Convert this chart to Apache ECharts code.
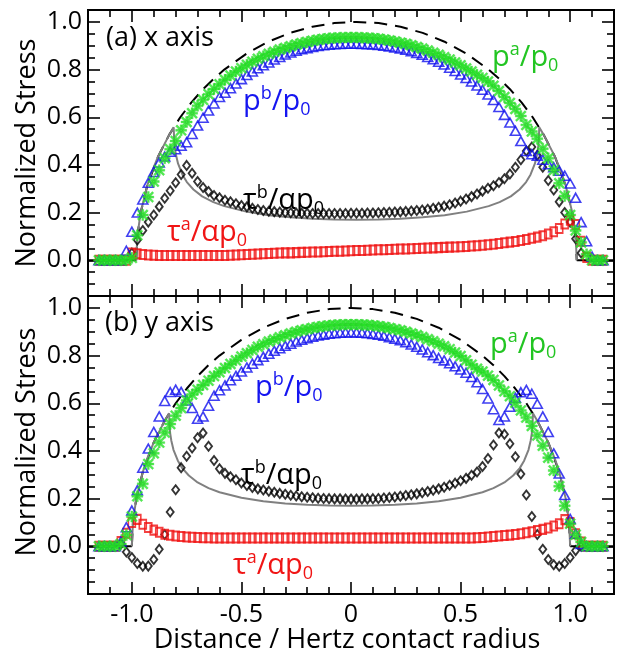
<!DOCTYPE html>
<html><head><meta charset="utf-8">
<script src="https://cdn.jsdelivr.net/npm/echarts@6.0.0/dist/echarts.min.js"></script>
<style>html,body{margin:0;padding:0;background:#fff}#c{width:620px;height:654px}</style>
</head><body><div id="c"></div>
<script>
// ---------- data ----------
const xGrid = [
 -1.15,-1.125,-1.1,-1.075,-1.05,-1.025,-1.0,-0.975,-0.95,-0.925,
 -0.9,-0.875,-0.85,-0.825,-0.8,-0.775,-0.75,-0.725,-0.7,-0.675,
 -0.65,-0.625,-0.6,-0.575,-0.55,-0.525,-0.5,-0.475,-0.45,-0.425,
 -0.4,-0.375,-0.35,-0.325,-0.3,-0.275,-0.25,-0.225,-0.2,-0.175,
 -0.15,-0.125,-0.1,-0.075,-0.05,-0.025,0,0.025,0.05,0.075,
 0.1,0.125,0.15,0.175,0.2,0.225,0.25,0.275,0.3,0.325,
 0.35,0.375,0.4,0.425,0.45,0.475,0.5,0.525,0.55,0.575,
 0.6,0.625,0.65,0.675,0.7,0.725,0.75,0.775,0.8,0.825,
 0.85,0.875,0.9,0.925,0.95,0.975,1.0,1.025,1.05,1.075,
 1.1,1.125,1.15];

// (a) x axis
const pA_a = [
 0,0,0,0,0,0,0.01,0.105,0.19,0.265,
 0.33,0.378,0.428,0.466,0.5,0.545,0.58,0.617,0.648,0.673,
 0.697,0.719,0.738,0.757,0.775,0.792,0.806,0.82,0.833,0.845,
 0.856,0.866,0.875,0.884,0.891,0.898,0.905,0.911,0.916,0.921,
 0.925,0.928,0.931,0.933,0.934,0.935,0.935,0.935,0.934,0.933,
 0.931,0.929,0.926,0.922,0.918,0.913,0.908,0.902,0.895,0.888,
 0.88,0.871,0.862,0.852,0.842,0.83,0.818,0.805,0.792,0.778,
 0.765,0.75,0.732,0.71,0.685,0.66,0.635,0.605,0.568,0.54,
 0.51,0.468,0.428,0.378,0.323,0.27,0.19,0.125,0.075,0.025,
 0,0,0];
const pB_a = [
 0,0,0,0,0,0.04,0.12,0.2,0.255,0.325,
 0.37,0.41,0.435,0.455,0.466,0.48,0.495,0.53,0.565,0.598,
 0.628,0.658,0.685,0.703,0.722,0.742,0.76,0.777,0.792,0.806,
 0.818,0.83,0.842,0.853,0.863,0.872,0.879,0.885,0.89,0.895,
 0.899,0.902,0.904,0.906,0.907,0.908,0.908,0.908,0.907,0.906,
 0.905,0.903,0.9,0.897,0.893,0.888,0.883,0.877,0.87,0.862,
 0.853,0.843,0.833,0.821,0.808,0.794,0.779,0.765,0.75,0.733,
 0.715,0.695,0.672,0.643,0.61,0.578,0.543,0.5,0.458,0.445,
 0.438,0.422,0.403,0.39,0.376,0.355,0.322,0.262,0.16,0.08,
 0.015,0,0];
const tB_a = [
 null,null,null,null,null,null,0.03,0.085,0.125,0.16,
 0.19,0.225,0.26,0.292,0.325,0.36,0.398,0.365,0.33,0.305,
 0.288,0.272,0.262,0.252,0.245,0.237,0.23,0.224,0.218,0.213,
 0.209,0.206,0.204,0.202,0.2,0.199,0.198,0.197,0.197,0.196,
 0.196,0.196,0.196,0.196,0.196,0.196,0.197,0.197,0.197,0.198,
 0.198,0.199,0.2,0.201,0.202,0.203,0.205,0.207,0.209,0.211,
 0.214,0.218,0.222,0.227,0.233,0.24,0.248,0.257,0.267,0.278,
 0.29,0.302,0.313,0.326,0.342,0.362,0.39,0.422,0.458,0.475,
 0.44,0.39,0.335,0.295,0.245,0.2,0.16,0.09,0.03,null,
 null,null,null];
const tA_a = [
 0,0,0,0,0,0,0.03,0.027,0.024,0.022,
 0.021,0.02,0.02,0.02,0.02,0.02,0.02,0.02,0.02,0.02,
 0.02,0.02,0.02,0.02,0.021,0.022,0.023,0.024,0.025,0.026,
 0.027,0.028,0.029,0.03,0.031,0.031,0.032,0.033,0.034,0.035,
 0.035,0.036,0.037,0.038,0.038,0.039,0.04,0.041,0.041,0.042,
 0.043,0.044,0.044,0.045,0.046,0.047,0.047,0.048,0.049,0.05,
 0.051,0.052,0.053,0.054,0.055,0.056,0.057,0.058,0.06,0.061,
 0.063,0.065,0.067,0.07,0.073,0.076,0.079,0.083,0.087,0.092,
 0.097,0.103,0.11,0.12,0.133,0.152,0.168,0.15,0.08,0.012,
 0,0,0];
const hertz_a = [[-0.98,0],[-0.975,0.1],[-0.96,0.199],[-0.93,0.312],[-0.88,0.436],[-0.829,0.527],
 [-0.779,0.6],[-0.729,0.661],[-0.679,0.714],[-0.628,0.76],[-0.578,0.8],[-0.478,0.866],[-0.377,0.917],
 [-0.277,0.954],[-0.176,0.98],[-0.076,0.995],[0.025,1],[0.126,0.995],[0.226,0.98],[0.327,0.954],
 [0.427,0.917],[0.528,0.866],[0.628,0.8],[0.678,0.76],[0.729,0.714],[0.779,0.661],[0.829,0.6],
 [0.879,0.527],[0.93,0.436],[0.98,0.312],[1.01,0.199],[1.025,0.1],[1.03,0]];
const tauTheory_a = [[-0.98,0],[-0.975,0.1],[-0.96,0.199],[-0.93,0.312],[-0.91,0.368],[-0.88,0.436],
 [-0.829,0.527],[-0.809,0.558],[-0.807,0.504],[-0.804,0.474],[-0.799,0.444],[-0.789,0.405],[-0.769,0.359],
 [-0.749,0.328],[-0.719,0.297],[-0.679,0.268],[-0.628,0.244],[-0.578,0.227],[-0.478,0.204],[-0.377,0.189],
 [-0.277,0.18],[-0.176,0.174],[-0.076,0.171],[0.025,0.17],[0.126,0.171],[0.226,0.174],[0.327,0.18],
 [0.427,0.189],[0.528,0.204],[0.628,0.227],[0.678,0.244],[0.729,0.268],[0.769,0.297],[0.799,0.328],
 [0.819,0.359],[0.839,0.405],[0.849,0.444],[0.854,0.474],[0.857,0.504],[0.859,0.558],[0.879,0.527],
 [0.93,0.436],[0.96,0.368],[0.98,0.312],[1.01,0.199],[1.025,0.1],[1.03,0]];
const zeroL_a = [[-1.2,0],[-0.98,0]];
const zeroR_a = [[1.03,0],[1.2,0]];

// (b) y axis
const pA_b = [
 0,0,0,0,0.01,0.047,0.125,0.21,0.262,0.345,
 0.39,0.435,0.477,0.513,0.548,0.58,0.612,0.637,0.657,0.677,
 0.695,0.714,0.73,0.748,0.765,0.78,0.796,0.81,0.824,0.837,
 0.848,0.859,0.868,0.877,0.885,0.893,0.9,0.906,0.911,0.916,
 0.92,0.923,0.926,0.928,0.929,0.93,0.93,0.93,0.929,0.928,
 0.926,0.923,0.92,0.916,0.911,0.906,0.9,0.893,0.886,0.878,
 0.869,0.86,0.85,0.839,0.827,0.813,0.798,0.78,0.762,0.745,
 0.733,0.716,0.698,0.675,0.65,0.63,0.602,0.57,0.54,0.505,
 0.465,0.422,0.372,0.318,0.252,0.17,0.095,0.049,0.018,0,
 0,0,0];
const pB_b = [
 0,0,0,0,0.02,0.08,0.15,0.235,0.33,0.41,
 0.48,0.545,0.61,0.647,0.657,0.648,0.612,0.58,0.535,0.545,
 0.59,0.632,0.655,0.675,0.697,0.715,0.733,0.75,0.766,0.781,
 0.795,0.808,0.82,0.831,0.841,0.85,0.859,0.866,0.873,0.879,
 0.884,0.888,0.892,0.894,0.896,0.897,0.897,0.897,0.896,0.894,
 0.891,0.887,0.883,0.877,0.871,0.864,0.856,0.847,0.837,0.826,
 0.814,0.802,0.79,0.78,0.768,0.755,0.742,0.728,0.71,0.688,
 0.66,0.62,0.575,0.53,0.545,0.585,0.623,0.646,0.656,0.64,
 0.598,0.545,0.48,0.39,0.305,0.215,0.115,0.053,0.01,0,
 0,0,0];
const tB_b = [
 null,null,null,null,0.01,-0.024,-0.047,-0.072,-0.084,-0.083,
 -0.055,-0.012,0.05,0.144,0.237,0.33,0.378,0.412,0.455,0.475,
 0.42,0.36,0.325,0.306,0.292,0.279,0.266,0.255,0.247,0.241,
 0.236,0.231,0.227,0.222,0.218,0.214,0.211,0.208,0.206,0.204,
 0.202,0.201,0.2,0.199,0.199,0.198,0.198,0.198,0.199,0.199,
 0.2,0.201,0.203,0.205,0.207,0.21,0.213,0.216,0.22,0.225,
 0.23,0.235,0.241,0.248,0.256,0.265,0.275,0.285,0.298,0.312,
 0.335,0.368,0.425,0.475,0.47,0.43,0.376,0.303,0.215,0.125,
 0.05,-0.012,-0.055,-0.077,-0.084,-0.072,-0.047,-0.018,0,null,
 null,null,null];
const tA_b = [
 0,0,0,0,0.02,0.055,0.1,0.113,0.093,0.079,
 0.068,0.059,0.051,0.046,0.043,0.041,0.039,0.038,0.037,0.036,
 0.036,0.035,0.035,0.035,0.035,0.035,0.035,0.035,0.035,0.035,
 0.035,0.035,0.035,0.035,0.035,0.035,0.035,0.035,0.035,0.035,
 0.035,0.035,0.035,0.035,0.035,0.035,0.035,0.035,0.035,0.035,
 0.035,0.035,0.035,0.035,0.035,0.035,0.035,0.035,0.035,0.035,
 0.035,0.035,0.035,0.035,0.035,0.035,0.035,0.035,0.035,0.036,
 0.037,0.039,0.041,0.043,0.045,0.047,0.05,0.053,0.057,0.061,
 0.066,0.071,0.077,0.085,0.095,0.112,0.1,0.053,0.018,0,
 0,0,0];
const hertz_b = [[-1,0],[-0.995,0.1],[-0.98,0.199],[-0.95,0.312],[-0.9,0.436],[-0.85,0.527],[-0.8,0.6],
 [-0.75,0.661],[-0.7,0.714],[-0.65,0.76],[-0.6,0.8],[-0.5,0.866],[-0.4,0.917],[-0.3,0.954],[-0.2,0.98],
 [-0.1,0.995],[0,1],[0.1,0.995],[0.2,0.98],[0.3,0.954],[0.4,0.917],[0.5,0.866],[0.6,0.8],[0.65,0.76],
 [0.7,0.714],[0.75,0.661],[0.8,0.6],[0.85,0.527],[0.9,0.436],[0.95,0.312],[0.98,0.199],[0.995,0.1],[1,0]];
const tauTheory_b = [[-1,0],[-0.995,0.1],[-0.98,0.199],[-0.95,0.312],[-0.93,0.368],[-0.9,0.436],[-0.85,0.527],
 [-0.83,0.558],[-0.828,0.504],[-0.825,0.474],[-0.82,0.444],[-0.81,0.405],[-0.79,0.359],[-0.77,0.328],
 [-0.74,0.297],[-0.7,0.268],[-0.65,0.244],[-0.6,0.227],[-0.5,0.204],[-0.4,0.189],[-0.3,0.18],[-0.2,0.174],
 [-0.1,0.171],[0,0.17],[0.1,0.171],[0.2,0.174],[0.3,0.18],[0.4,0.189],[0.5,0.204],[0.6,0.227],[0.65,0.244],
 [0.7,0.268],[0.74,0.297],[0.77,0.328],[0.79,0.359],[0.81,0.405],[0.82,0.444],[0.825,0.474],[0.828,0.504],
 [0.83,0.558],[0.85,0.527],[0.9,0.436],[0.93,0.368],[0.95,0.312],[0.98,0.199],[0.995,0.1],[1,0]];
const zeroL_b = [[-1.2,0],[-1,0]];
const zeroR_b = [[1,0],[1.2,0]];

// ticks
const xMajorTicks = [-1, -0.5, 0, 0.5, 1];
const xTickLabels = ['-1.0', '-0.5', '0', '0.5', '1.0'];
const xMinorTicks = [-1.1,-0.9,-0.8,-0.7,-0.6,-0.4,-0.3,-0.2,-0.1,0.1,0.2,0.3,0.4,0.6,0.7,0.8,0.9,1.1];
const yMajorTicks = [0, 0.2, 0.4, 0.6, 0.8, 1.0];
const yTickLabels = ['0.0', '0.2', '0.4', '0.6', '0.8', '1.0'];
const yMinorTicks_a = [-0.1,-0.05,0.05,0.1,0.15,0.25,0.3,0.35,0.45,0.5,0.55,0.65,0.7,0.75,0.85,0.9,0.95];
const yMinorTicks_b = [-0.15,-0.1,-0.05,0.05,0.1,0.15,0.25,0.3,0.35,0.45,0.5,0.55,0.65,0.7,0.75,0.85,0.9,0.95];
const yRange_a = [-0.15, 1.05];
const yRange_b = [-0.2, 1.05];
const xRange = [-1.2, 1.2];

// ---------- build ----------
const FONT = '"Open Sans", sans-serif';
const chart = echarts.init(document.getElementById('c'), null, {renderer: 'canvas'});

function pairs(ys) {
  const out = [];
  xGrid.forEach((x, i) => { if (ys[i] !== null) out.push([x, ys[i]]); });
  return out;
}
function mkX(grid, pos, major, showLabel) {
  return {
    type: 'value', gridIndex: grid, position: pos, min: xRange[0], max: xRange[1],
    axisLine: {show: true, onZero: false, lineStyle: {color: '#000', width: 2}},
    axisTick: {show: true, inside: true, length: major ? 12 : 7, customValues: major ? xMajorTicks : xMinorTicks,
      lineStyle: {color: '#000', width: 1.6}},
    axisLabel: {show: showLabel, customValues: xMajorTicks, margin: 8, fontSize: 25, color: '#000', fontFamily: FONT,
      formatter: v => { const i = xMajorTicks.findIndex(t => Math.abs(t - v) < 1e-6); return i >= 0 ? xTickLabels[i] : ''; }},
    splitLine: {show: false}, minorTick: {show: false}
  };
}
function mkY(grid, pos, major, showLabel, range, minors) {
  return {
    type: 'value', gridIndex: grid, position: pos, min: range[0], max: range[1],
    axisLine: {show: true, onZero: false, lineStyle: {color: '#000', width: 2}},
    axisTick: {show: true, inside: true, length: major ? 12 : 7, customValues: major ? yMajorTicks : minors,
      lineStyle: {color: '#000', width: 1.6}},
    axisLabel: {show: showLabel, customValues: yMajorTicks, margin: 6, fontSize: 25, color: '#000', fontFamily: FONT,
      formatter: v => { const i = yMajorTicks.findIndex(t => Math.abs(t - v) < 1e-6); return i >= 0 ? yTickLabels[i] : ''; }},
    splitLine: {show: false}, minorTick: {show: false}
  };
}

const xAxes = [], yAxes = [];
[0, 1].forEach(g => {
  xAxes.push(mkX(g, 'bottom', true, g === 1));
  xAxes.push(mkX(g, 'bottom', false, false));
  xAxes.push(mkX(g, 'top', true, false));
  xAxes.push(mkX(g, 'top', false, false));
  const r = g === 0 ? yRange_a : yRange_b;
  const mn = g === 0 ? yMinorTicks_a : yMinorTicks_b;
  yAxes.push(mkY(g, 'left', true, true, r, mn));
  yAxes.push(mkY(g, 'left', false, false, r, mn));
  yAxes.push(mkY(g, 'right', true, false, r, mn));
  yAxes.push(mkY(g, 'right', false, false, r, mn));
});

const STAR = 'path://M4.1,0H5.9V10H4.1Z M0,4.1H10V5.9H0Z M1.3,0L10,8.7L8.7,10L0,1.3Z M8.7,0L10,1.3L1.3,10L0,8.7Z';

function panelSeries(g, d) {
  const ax = {xAxisIndex: g * 4, yAxisIndex: g * 4};
  const line = (data, style) => Object.assign({type: 'line', data, symbol: 'none', silent: true,
    lineStyle: style, z: 2}, ax);
  return [
    line(d.zl, {color: '#000', width: 2}),
    line(d.zr, {color: '#000', width: 2}),
    line(d.hertz, {color: '#000', width: 2, type: [13, 8]}),
    line(d.tau, {color: '#808080', width: 2}),
    Object.assign({type: 'scatter', data: pairs(d.tB), symbol: 'diamond', symbolSize: [7, 9], silent: true, z: 3,
      itemStyle: {color: 'rgba(0,0,0,0)', borderColor: '#000', borderWidth: 1.9}}, ax),
    Object.assign({type: 'scatter', data: pairs(d.tA), symbol: 'rect', symbolSize: [7, 9], silent: true, z: 3,
      itemStyle: {color: 'rgba(0,0,0,0)', borderColor: '#f01010', borderWidth: 1.8}}, ax),
    Object.assign({type: 'scatter', data: pairs(d.pB), symbol: 'triangle', symbolSize: [10, 9], silent: true, z: 3,
      itemStyle: {color: 'rgba(0,0,0,0)', borderColor: '#1010ee', borderWidth: 1.6}}, ax),
    Object.assign({type: 'scatter', data: pairs(d.pA), symbol: STAR, symbolSize: 11, silent: true, z: 3,
      itemStyle: {color: '#26e626', borderColor: '#22cc22', borderWidth: 0.4}}, ax)
  ];
}

const series = [].concat(
  panelSeries(0, {zl: zeroL_a, zr: zeroR_a, hertz: hertz_a, tau: tauTheory_a, tB: tB_a, tA: tA_a, pB: pB_a, pA: pA_a}),
  panelSeries(1, {zl: zeroL_b, zr: zeroR_b, hertz: hertz_b, tau: tauTheory_b, tB: tB_b, tA: tA_b, pB: pB_b, pA: pA_b})
);

const RICH = {
  m: {fontSize: 29, fontFamily: FONT, lineHeight: 34, verticalAlign: 'middle'},
  sup: {fontSize: 18, fontFamily: FONT, lineHeight: 22, verticalAlign: 'top'},
  sub: {fontSize: 18, fontFamily: FONT, lineHeight: 14, verticalAlign: 'bottom'}
};
function annot(x, y, a, sup, b, color) {
  return {type: 'text', x, y, silent: true, z: 50,
    style: {text: `{m|${a}}{sup|${sup}}{m|${b}}{sub|0}`, rich: RICH, fill: color, align: 'left', verticalAlign: 'middle'}};
}
function plain(x, y, text, size, rot, align) {
  return {type: 'text', x, y, rotation: rot || 0, silent: true, z: 50,
    style: {text, fill: '#000', font: `${size}px ${FONT}`, align: align || 'left', verticalAlign: 'middle'}};
}

const graphic = [
  plain(106, 38, '(a) x axis', 27),
  plain(105, 323, '(b) y axis', 27),
  plain(27, 153, 'Normalized Stress', 27, Math.PI / 2, 'center'),
  plain(27, 442, 'Normalized Stress', 27, Math.PI / 2, 'center'),
  plain(347, 640, 'Distance / Hertz contact radius', 27, 0, 'center'),
  annot(492, 58, 'p', 'a', '/p', '#22c522'),
  annot(243, 102, 'p', 'b', '/p', '#1515f0'),
  annot(243, 201, 'τ', 'b', '/αp', '#000'),
  annot(167, 233, 'τ', 'a', '/αp', '#f01515'),
  annot(490, 345, 'p', 'a', '/p', '#22c522'),
  annot(255, 388, 'p', 'b', '/p', '#1515f0'),
  annot(241, 476, 'τ', 'b', '/αp', '#000'),
  annot(233, 566, 'τ', 'a', '/αp', '#f01515')
];

chart.setOption({
  animation: false,
  backgroundColor: '#fff',
  grid: [
    {left: 88, top: 10, width: 526, height: 286},
    {left: 88, top: 296, width: 526, height: 298}
  ],
  xAxis: xAxes,
  yAxis: yAxes,
  series,
  graphic
});
</script></body></html>
